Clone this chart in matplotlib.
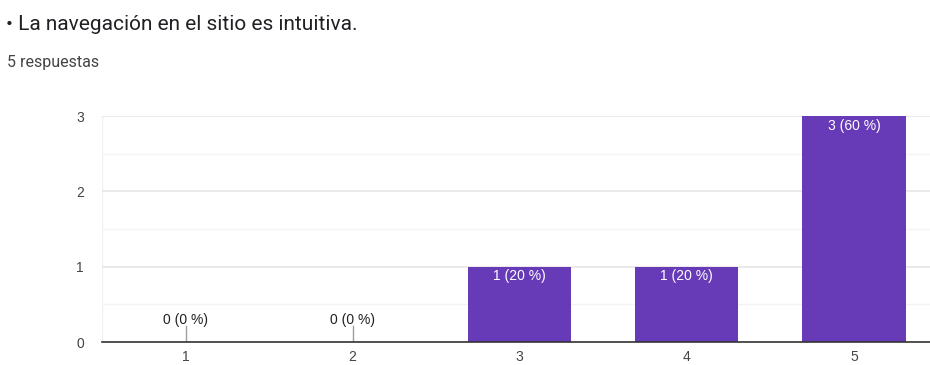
import matplotlib.pyplot as plt

plt.rcParams['font.family'] = ['Roboto', 'DejaVu Sans']

# survey answers, scale 1-5
categories = ['1', '2', '3', '4', '5']
counts = [0, 0, 1, 1, 3]
total = 5
title = '• La navegación en el sitio es intuitiva.'
subtitle = '5 respuestas'

bar_color = '#673ab7'
text_color = '#202124'
tick_color = '#444444'
chart_font = ['Liberation Sans', 'DejaVu Sans']

fig = plt.figure(figsize=(9.3, 3.65), dpi=100)
fig.text(6 / 930, 1 - 25 / 365, title, fontsize=15, color=text_color, va='center', ha='left')
fig.text(7 / 930, 1 - 62 / 365, subtitle, fontsize=11.5, color=tick_color, va='center', ha='left')

ax = fig.add_axes([102 / 930, 23 / 365, 828 / 930, 226 / 365])
x = list(range(1, len(categories) + 1))
ax.bar(x, counts, width=0.617, color=bar_color, zorder=3)

ax.set_xlim(0.5, 5 + 76 / 167)
ax.set_ylim(0, 3)
ax.set_xticks(x)
ax.set_xticklabels(categories, family=chart_font)
ax.set_yticks([0, 1, 2, 3])
ax.set_yticklabels(['0', '1', '2', '3'], family=chart_font)
ax.set_yticks([0.5, 1.5, 2.5], minor=True)
ax.grid(axis='y', which='major', color='#e6e6e6', linewidth=1.2, zorder=0)
ax.grid(axis='y', which='minor', color='#f3f3f3', linewidth=1, zorder=0)
ax.tick_params(axis='both', which='both', length=0, labelsize=10, colors=tick_color)
ax.tick_params(axis='x', pad=6)
ax.tick_params(axis='y', pad=13)
for s in ['top', 'right', 'left']:
    ax.spines[s].set_visible(False)
ax.spines['bottom'].set_color('#333333')
ax.spines['bottom'].set_linewidth(1.2)
ax.spines['bottom'].set_zorder(4)
ax.axvline(0.5, color='#f0f0f0', linewidth=1, zorder=0)

for xi, c in zip(x, counts):
    label = f'{c} ({c * 100 // total} %)'
    if c == 0:
        ax.plot([xi, xi], [0, 0.21], color='#9e9e9e', linewidth=1, zorder=3)
        ax.text(xi, 0.29, label, ha='center', va='center', fontsize=10,
                color=text_color, family=chart_font)
    else:
        ax.text(xi, c - 0.13, label, ha='center', va='center', fontsize=10,
                color='white', family=chart_font, zorder=5)

fig.savefig('out.png', dpi=100)
